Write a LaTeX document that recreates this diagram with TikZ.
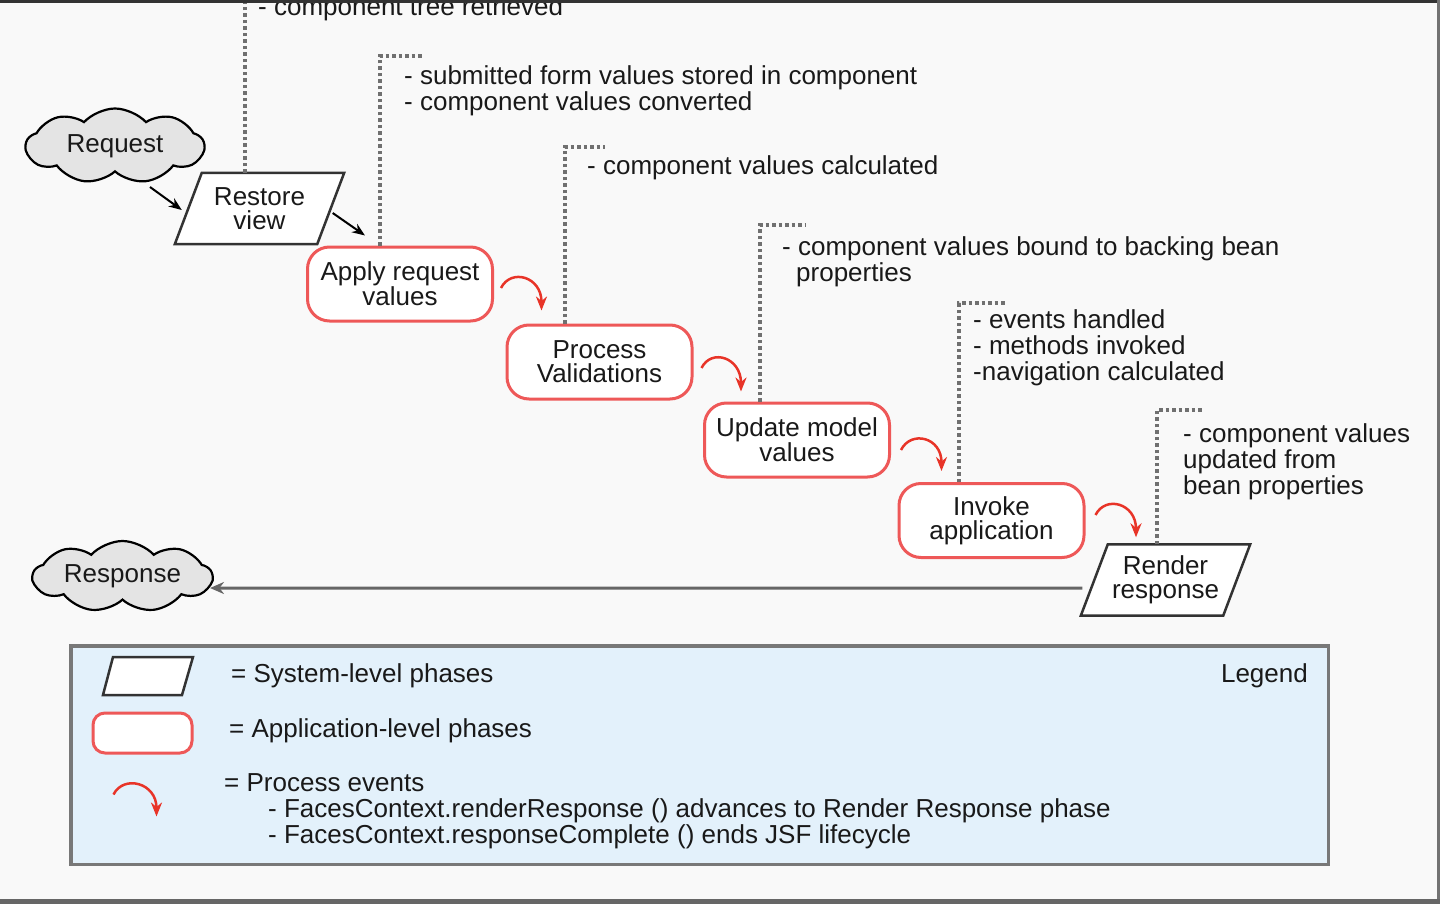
\documentclass[tikz,border=0pt]{standalone}
\usepackage{fontspec}
\setmainfont{Liberation Sans}
\usetikzlibrary{shapes.symbols,arrows.meta}
\definecolor{bg}{RGB}{249,249,249}
\definecolor{txt}{RGB}{25,25,25}
\definecolor{appred}{RGB}{238,88,88}
\definecolor{evred}{RGB}{232,52,40}
\definecolor{dotgray}{RGB}{112,112,112}
\definecolor{legfill}{RGB}{227,241,251}
\definecolor{legline}{RGB}{120,120,120}
\definecolor{cloudfill}{RGB}{228,228,228}
\pgfdeclarelayer{background}
\pgfsetlayers{background,main}
\begin{document}
\begin{tikzpicture}[x=1pt,y=-1pt,
  every node/.style={font=\fontsize{26}{24}\selectfont, text=txt, inner sep=0pt},
  sysphase/.style={rectangle, minimum width=142pt, minimum height=71pt, align=center},
  sysline/.style={draw=black!80, line width=2.5pt, fill=white, line join=miter},
  appphase/.style={rectangle, rounded corners=22pt, draw=appred, line width=3pt,
    fill=white, minimum width=185pt, minimum height=74pt, align=center},
  cloudy/.style={cloud, cloud puffs=9, cloud puff arc=95, cloud ignores aspect,
    draw=black, line width=2.2pt, fill=cloudfill, minimum width=178pt, minimum height=75pt},
  evarrow/.style={draw=evred, line width=2.5pt, -{Stealth[length=14pt,width=11pt]}},
  flowarrow/.style={draw=black, line width=2pt, -{Stealth[length=13pt,width=10pt]}},
  backarrow/.style={draw=black!60, line width=3pt, -{Stealth[length=14pt,width=12pt]}},
  dotline/.style={draw=dotgray, line width=3.5pt, dash pattern=on 3.5pt off 3pt},
  note/.style={anchor=base west, align=left, font=\fontsize{26}{26}\selectfont},
]
\begin{pgfonlayer}{background}
\path[use as bounding box, fill=bg] (0,0) rectangle (1440,904);
\end{pgfonlayer}
\clip (0,0) rectangle (1440,904);

% phases
\node[cloudy] (req) at (115,146) {Request};
\node[sysphase] (rv) at (259.5,208.5) {Restore\\view};
\node[appphase] (ar) at (400,284) {Apply request\\values};
\node[appphase] (pv) at (599.5,362) {Process\\Validations};
\node[appphase] (um) at (797,440) {Update model\\values};
\node[appphase] (ia) at (991.5,520.5) {Invoke\\application};
\node[sysphase] (rr) at (1165.5,580) {Render\\response};
\node[cloudy, minimum width=179pt, minimum height=71pt] (resp) at (122.5,576.5) {Response};

% parallelogram outlines of the system-level phases
\begin{pgfonlayer}{background}
\foreach \n in {rv,rr}{
  \draw[sysline] ([xshift=-13.5pt]\n.south west) -- ([xshift=13.5pt]\n.north west)
    -- ([xshift=13.5pt]\n.north east) -- ([xshift=-13.5pt]\n.south east) -- cycle;
}
\end{pgfonlayer}

% dotted leaders
\draw[dotline] (245,0 |- rv.north) -- (245,-5);
\draw[dotline] (380,0 |- ar.north) -- (380,56) -- (424,56);
\draw[dotline] (565,0 |- pv.north) -- (565,147) -- (605,147);
\draw[dotline] (760,0 |- um.north) -- (760,225) -- (806,225);
\draw[dotline] (959,0 |- ia.north) -- (959,303) -- (1005,303);
\draw[dotline] (1157,0 |- rr.north) -- (1157,410) -- (1202,410);

% notes
\node[note] (n1) at (258,16) {- component tree retrieved};
\node[note] (n2) at (404,111) {- submitted form values stored in component\\- component values converted};
\node[note] (n3) at (587,175) {- component values calculated};
\node[note] (n4) at (782,281) {- component values bound to backing bean\\\hspace*{14pt}properties};
\node[note] (n5) at (973,380) {- events handled\\- methods invoked\\-navigation calculated};
\node[note] (n6) at (1183,494) {- component values\\updated from\\bean properties};

% flow connectors
\draw[flowarrow] ([shift={(35,41)}]req.center) -- ([shift={(-6.5,1.5)}]rv.west);
\draw[flowarrow] ([shift={(2,4.5)}]rv.east) -- ([shift={(59,-10)}]ar.north west);
\draw[evarrow] ([shift={(7,4)}]ar.east) .. controls +(10,-20) and +(0,-34) .. ([shift={(36,-13)}]pv.north west);
\draw[evarrow] ([shift={(8,6)}]pv.east) .. controls +(10,-20) and +(0,-34) .. ([shift={(38,-10)}]um.north west);
\draw[evarrow] ([shift={(10,10)}]um.east) .. controls +(10,-20) and +(0,-34) .. ([shift={(44,-11)}]ia.north west);
\draw[evarrow] ([shift={(10,-5.5)}]ia.east) .. controls +(10,-20) and +(0,-34) .. ([shift={(-29.5,-7)}]rr.north);
\draw[backarrow] ([shift={(-12,8)}]rr.west) -- ([shift={(-4,11.5)}]resp.east);

% legend
\node[draw=legline, line width=3.5pt, fill=legfill, minimum width=1257.5pt, minimum height=218.5pt, anchor=north west] (legend) at (69,644) {};
\draw[sysline] (103,695) -- (113,657) -- (193,657) -- (182,695) -- cycle;
\node[appphase, rounded corners=12pt, minimum width=99pt, minimum height=40pt] (lapp) at (142.5,733) {};
\draw[evarrow] ([shift={(22,40)}]lapp.south west) .. controls +(10,-20) and +(0,-34) .. ([shift={(65,62)}]lapp.south west);
\node[note] (t1) at (231,682) {= System-level phases};
\node[note] (t2) at (229,737) {= Application-level phases};
\node[note] (t3) at (224,843) {= Process events\\\hspace*{44pt}- FacesContext.renderResponse () advances to Render Response phase\\\hspace*{44pt}- FacesContext.responseComplete () ends JSF lifecycle};
\node[note, anchor=base east] (t4) at (1308,682) {Legend};

% frame
\fill[black!80] (0,0) rectangle (1440,3);
\fill[black!55] (1437,0) rectangle (1440,904);
\fill[black!60] (0,899) rectangle (1440,904);
\end{tikzpicture}
\end{document}
